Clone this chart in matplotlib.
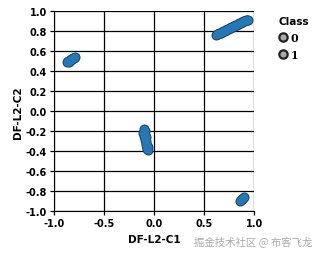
import matplotlib
matplotlib.use("Agg")
import matplotlib.pyplot as plt
from matplotlib.lines import Line2D

# cluster points (DF-L2-C1, DF-L2-C2)
c1_x = [0.62, 0.63, 0.64, 0.66, 0.68, 0.70, 0.72, 0.74, 0.76, 0.78, 0.80, 0.82,
        0.84, 0.86, 0.88, 0.90, 0.92, 0.94, 0.65, 0.69, 0.73, 0.77, 0.81, 0.85, 0.89, 0.93,
        0.67, 0.71, 0.75, 0.79, 0.83, 0.87, 0.91]
c1_y = [0.76, 0.77, 0.775, 0.785, 0.795, 0.805, 0.815, 0.825, 0.835, 0.845, 0.855, 0.865,
        0.875, 0.885, 0.895, 0.90, 0.91, 0.915, 0.785, 0.805, 0.825, 0.845, 0.865, 0.88, 0.90, 0.915,
        0.785, 0.805, 0.825, 0.84, 0.86, 0.88, 0.90]
c2_x = [-0.87, -0.86, -0.85, -0.84, -0.83, -0.82, -0.81, -0.80, -0.79, -0.855, -0.835, -0.815]
c2_y = [0.49, 0.50, 0.505, 0.51, 0.52, 0.525, 0.53, 0.535, 0.54, 0.495, 0.515, 0.535]
c3_x = [-0.105, -0.10, -0.095, -0.09, -0.085, -0.08, -0.075, -0.07, -0.065, -0.10, -0.09,
        -0.08, -0.07, -0.11, -0.095, -0.085, -0.06]
c3_y = [-0.18, -0.21, -0.24, -0.27, -0.30, -0.32, -0.35, -0.37, -0.39, -0.25, -0.29,
        -0.34, -0.38, -0.22, -0.20, -0.26, -0.36]
c4_x = [0.86, 0.87, 0.88, 0.89, 0.90, 0.875]
c4_y = [-0.90, -0.89, -0.88, -0.87, -0.86, -0.875]

xs = c1_x + c2_x + c3_x + c4_x
ys = c1_y + c2_y + c3_y + c4_y

ticks = [-1.0, -0.8, -0.6, -0.4, -0.2, 0.0, 0.2, 0.4, 0.6, 0.8, 1.0]
xticks = [-1.0, -0.5, 0.0, 0.5, 1.0]

plt.rcParams['font.family'] = ['DejaVu Sans']
plt.rcParams['font.weight'] = 'bold'

fig = plt.figure(figsize=(3.2, 2.55), dpi=100)
ax = fig.add_axes([0.169, 0.168, 0.625, 0.784])

# dark outline layer under the blue points, so only the blob edge shows
ax.scatter(xs, ys, s=52, color='#1b3f5e', linewidths=0, zorder=3)
ax.scatter(xs, ys, s=34, color='#2677b4', linewidths=0, zorder=4)

ax.set_xlim(-1.0, 1.0)
ax.set_ylim(-1.0, 1.0)
ax.set_xticks(xticks)
ax.set_yticks(ticks)
ax.set_xticklabels(['%.1f' % t for t in xticks], fontsize=7, fontweight='bold')
ax.set_yticklabels(['%.1f' % t for t in ticks], fontsize=7, fontweight='bold')
ax.grid(True, color='black', lw=0.9)
ax.set_axisbelow(True)
ax.spines['top'].set_visible(False)
ax.spines['right'].set_visible(False)
ax.tick_params(length=3, width=0.9, pad=2, color='black')

ax.set_xlabel('DF-L2-C1', fontsize=7.5, fontweight='bold', labelpad=4)
ax.set_ylabel('DF-L2-C2', fontsize=7.5, fontweight='bold', labelpad=2)

handles = [Line2D([], [], marker='o', ls='', markersize=6, markerfacecolor='#aaaaaa',
                  markeredgecolor='#222222', markeredgewidth=1.6) for _ in range(2)]
leg = ax.legend(handles, ['0', '1'], title='Class', loc='upper left',
                bbox_to_anchor=(1.1, 1.0), frameon=False,
                title_fontsize=7.5, handletextpad=0.3, borderaxespad=0,
                handlelength=0.8, labelspacing=0.55,
                prop={'family': 'DejaVu Serif', 'size': 8, 'weight': 'bold'})
leg.get_title().set_fontweight('bold')
leg._legend_box.align = 'left'

fig.text(0.977, 0.03, '掘金技术社区 @ 布客飞龙', ha='right', va='bottom', fontsize=7.5,
         color='#aaaaaa', family=['Noto Sans CJK SC', 'DejaVu Sans'], fontweight='normal')

fig.savefig('out.png', dpi=100)
